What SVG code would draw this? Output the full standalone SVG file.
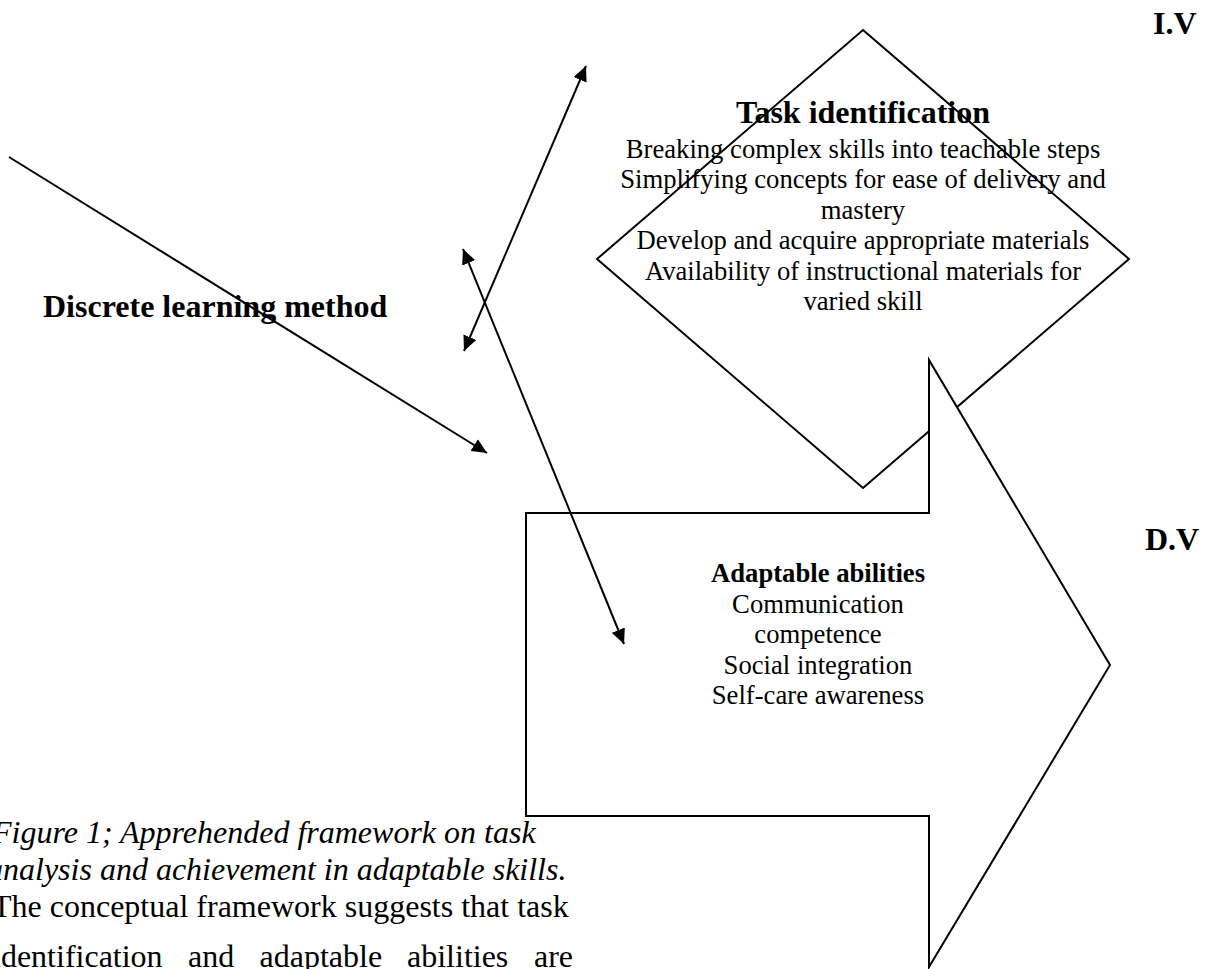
<svg xmlns="http://www.w3.org/2000/svg" width="1206" height="969" viewBox="0 0 1206 969">
<style>
text{font-family:"Liberation Serif","Times New Roman",serif;fill:#000}
.b{font-weight:bold}
.t32{font-size:32px}
.t27{font-size:26.67px}
.it{font-style:italic;font-size:32px}
.cap{font-size:32px}
.shape{stroke:#000;stroke-width:2;stroke-linejoin:miter}
.conn{stroke:#000;stroke-width:2;fill:none}
</style>
<defs>
<marker id="ah" markerUnits="userSpaceOnUse" markerWidth="16" markerHeight="14" refX="15" refY="7" orient="auto-start-reverse">
<path d="M0,0 L15,7 L0,14 z" fill="#000"/>
</marker>
</defs>
<rect width="1206" height="969" fill="#fff"/>
<g id="task-identification">
<text class="b t32" x="863" y="123" text-anchor="middle">Task identification</text>
<g class="t27" text-anchor="middle">
<text x="863" y="157.5">Breaking complex skills into teachable steps</text>
<text x="863" y="188">Simplifying concepts for ease of delivery and</text>
<text x="863" y="218.5">mastery</text>
<text x="863" y="249">Develop and acquire appropriate materials</text>
<text x="863" y="279.5">Availability of instructional materials for</text>
<text x="863" y="310">varied skill</text>
</g>
<polygon class="shape" fill="none" points="863,30 1129,259 863,488 597,259"/>
</g>
<g id="adaptable-abilities">
<polygon class="shape" fill="#fff" points="526,513 929,513 929,360 1110,665 929,967 929,816 526,816"/>
<text class="b t27" x="818" y="582" text-anchor="middle">Adaptable abilities</text>
<g class="t27" text-anchor="middle">
<text x="818" y="612.5">Communication</text>
<text x="818" y="643">competence</text>
<text x="818" y="673.5">Social integration</text>
<text x="818" y="704">Self-care awareness</text>
</g>
</g>
<g id="discrete-learning-method">
<text class="b t32" x="43" y="317">Discrete learning method</text>
</g>
<g id="labels">
<text class="b t32" x="1153" y="34">I.V</text>
<text class="b t32" x="1145" y="550">D.V</text>
</g>
<g id="caption">
<text class="it" x="-8" y="843">Figure 1; Apprehended framework on task</text>
<text class="it" x="-13" y="880">analysis and achievement in adaptable skills.</text>
<text class="cap" x="-8" y="917">The conceptual framework suggests that task</text>
<text class="cap" y="967"><tspan x="-8">identification</tspan><tspan x="188">and</tspan><tspan x="259.5">adaptable</tspan><tspan x="407">abilities</tspan><tspan x="534">are</tspan></text>
</g>
<g id="connectors">
<line class="conn" x1="9" y1="157" x2="487" y2="453" marker-end="url(#ah)"/>
<line class="conn" x1="586" y1="66" x2="464" y2="351" marker-start="url(#ah)" marker-end="url(#ah)"/>
<line class="conn" x1="463" y1="249" x2="624" y2="644" marker-start="url(#ah)" marker-end="url(#ah)"/>
</g>
</svg>
